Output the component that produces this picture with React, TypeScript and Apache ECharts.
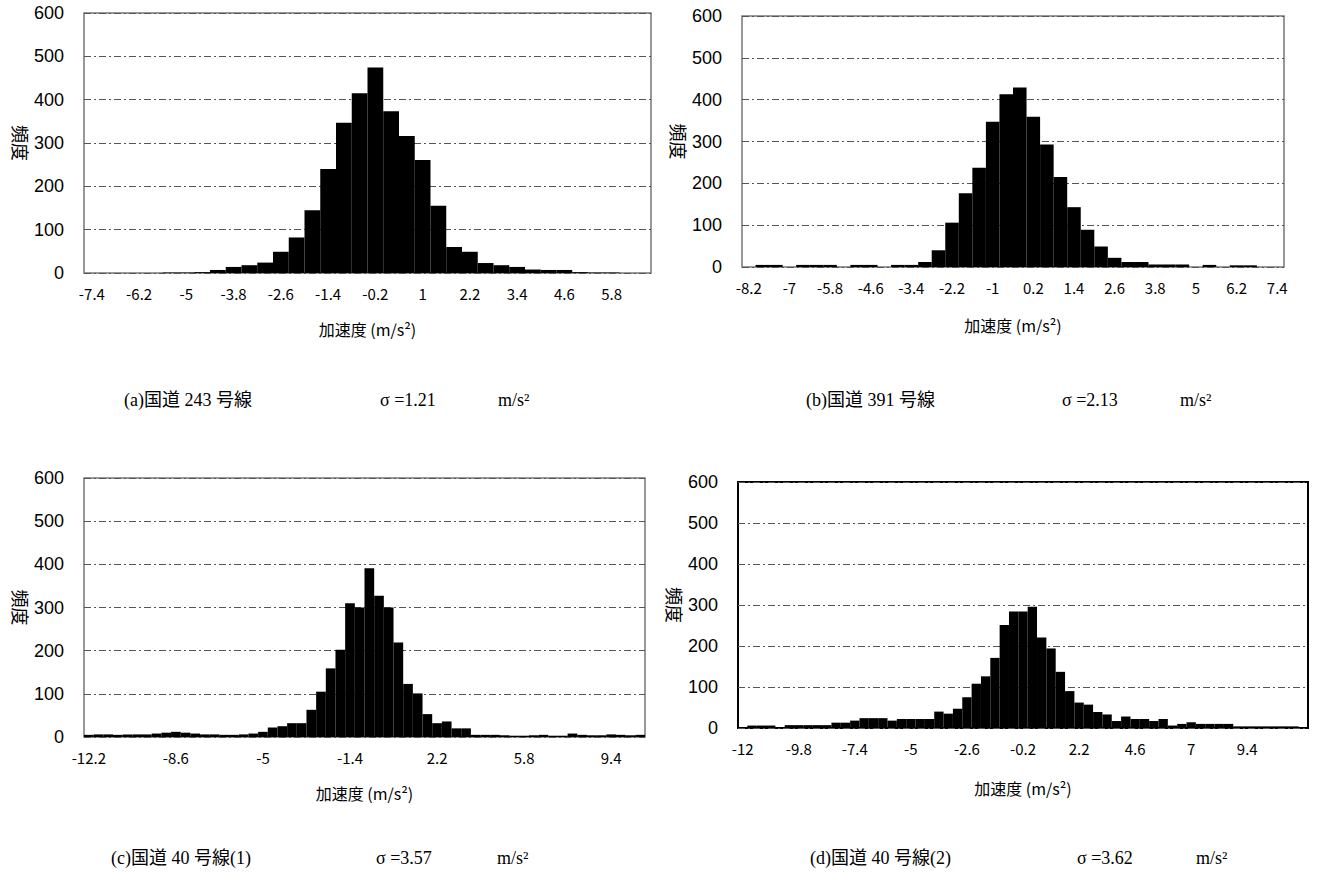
import React, { useEffect, useRef } from "react";
import * as echarts from "echarts";

const BIN = 0.4;

// (a) 国道243号線
const A_START = -7.4;
const A_VALUES = [0, 0, 0, 0, 0, 1, 1, 2, 7, 14, 18, 24, 49, 82, 145, 240, 347, 415, 474, 373, 316, 261, 155, 60, 49, 23, 18, 14, 8, 7, 7, 2, 1, 1, 0, 0];
const A_TICKS = ["-7.4", "-6.2", "-5", "-3.8", "-2.6", "-1.4", "-0.2", "1", "2.2", "3.4", "4.6", "5.8"];
const A_FIRST = 0, A_EVERY = 3;

// (b) 国道391号線
const B_START = -8.2;
const B_VALUES = [0, 5, 5, 0, 5, 5, 5, 0, 5, 5, 0, 5, 5, 12, 40, 106, 176, 237, 347, 413, 429, 359, 293, 215, 143, 89, 49, 22, 12, 12, 6, 6, 6, 0, 5, 0, 4, 4, 0, 0];
const B_TICKS = ["-8.2", "-7", "-5.8", "-4.6", "-3.4", "-2.2", "-1", "0.2", "1.4", "2.6", "3.8", "5", "6.2", "7.4"];
const B_FIRST = 0, B_EVERY = 3;

// (c) 国道40号線(1)
const C_START = -12.2;
const C_VALUES = [5, 6, 6, 5, 6, 6, 6, 8, 10, 12, 10, 8, 6, 6, 5, 5, 6, 8, 12, 22, 25, 32, 32, 63, 105, 159, 202, 310, 300, 391, 327, 300, 219, 123, 101, 53, 32, 36, 20, 20, 5, 5, 5, 4, 3, 3, 4, 5, 3, 3, 8, 5, 4, 4, 6, 5, 4, 5];
const C_TICKS = ["-12.2", "-8.6", "-5", "-1.4", "2.2", "5.8", "9.4"];
const C_FIRST = 0, C_EVERY = 9;

// (d) 国道40号線(2)
const D_START = -12.2;
const D_VALUES = [2, 6, 6, 6, 1, 7, 7, 7, 7, 7, 13, 13, 18, 24, 24, 24, 18, 22, 22, 22, 22, 40, 35, 47, 75, 108, 126, 171, 251, 284, 284, 296, 221, 194, 137, 90, 62, 57, 39, 33, 17, 28, 22, 22, 17, 22, 6, 10, 14, 10, 10, 10, 10, 4, 4, 4, 4, 4, 4, 4, 0];
const D_TICKS = ["-12", "-9.8", "-7.4", "-5", "-2.6", "-0.2", "2.2", "4.6", "7", "9.4"];
const D_FIRST = 0, D_EVERY = 6;

const Y_MAX = 600;
const Y_STEP = 100;

const CAPTIONS = [
  { name: "(a)国道 243 号線", sigma: "σ =1.21", unit: "m/s²" },
  { name: "(b)国道 391 号線", sigma: "σ =2.13", unit: "m/s²" },
  { name: "(c)国道 40 号線(1)", sigma: "σ =3.57", unit: "m/s²" },
  { name: "(d)国道 40 号線(2)", sigma: "σ =3.62", unit: "m/s²" },
];

function categories(start: number, n: number): string[] {
  const out: string[] = [];
  for (let i = 0; i < n; i++) out.push(String(Math.round((start + i * BIN) * 10) / 10));
  return out;
}

const PANELS = [
  { start: A_START, values: A_VALUES, ticks: A_TICKS, first: A_FIRST, every: A_EVERY,
    grid: { left: 84, top: 13, width: 567, height: 260 }, nameGap: 52, xNameGap: 48, border: "#777", bw: 1.5,
    cap: { x: [124, 380, 498], y: 402 } },
  { start: B_START, values: B_VALUES, ticks: B_TICKS, first: B_FIRST, every: B_EVERY,
    grid: { left: 742, top: 16, width: 542, height: 251 }, nameGap: 52, xNameGap: 50, border: "#777", bw: 1.5,
    cap: { x: [806, 1062, 1180], y: 402 } },
  { start: C_START, values: C_VALUES, ticks: C_TICKS, first: C_FIRST, every: C_EVERY,
    grid: { left: 84, top: 478, width: 561, height: 259 }, nameGap: 52, xNameGap: 48, border: "#777", bw: 1.5,
    cap: { x: [111, 376, 497], y: 860 } },
  { start: D_START, values: D_VALUES, ticks: D_TICKS, first: D_FIRST, every: D_EVERY,
    grid: { left: 738, top: 482, width: 570, height: 246 }, nameGap: 50, xNameGap: 52, border: "#000", bw: 2,
    cap: { x: [810, 1077, 1196], y: 860 } },
];

const SANS = "'Liberation Sans', Arial, sans-serif";
const CJK = "'Noto Sans CJK JP', sans-serif";
const SERIF = "'Liberation Serif', 'Noto Sans CJK JP', serif";

export default function App() {
  const ref = useRef<HTMLDivElement>(null);
  useEffect(() => {
    if (!ref.current) return;
    const chart = echarts.init(ref.current, undefined, { renderer: "svg" });
    const grids: any[] = [];
    const xAxes: any[] = [];
    const yAxes: any[] = [];
    const series: any[] = [];
    const graphics: any[] = [];
    PANELS.forEach((p, i) => {
      grids.push({ ...p.grid, show: true, borderColor: p.border, borderWidth: p.bw, backgroundColor: "#fff" });
      const cats = categories(p.start, p.values.length);
      xAxes.push({
        type: "category",
        gridIndex: i,
        data: cats,
        boundaryGap: true,
        axisTick: { show: false },
        axisLine: { show: false },
        axisLabel: {
          interval: (idx: number) => idx >= p.first && (idx - p.first) % p.every === 0,
          formatter: (_v: string, idx: number) => p.ticks[(idx - p.first) / p.every] ?? "",
          color: "#000",
          fontSize: 15,
          fontFamily: CJK,
          margin: 13,
        },
        name: "加速度 (m/s²)",
        nameLocation: "middle",
        nameGap: p.xNameGap,
        nameTextStyle: { color: "#000", fontSize: 16, fontFamily: CJK },
      });
      yAxes.push({
        type: "value",
        gridIndex: i,
        min: 0,
        max: Y_MAX,
        interval: Y_STEP,
        axisLine: { show: false },
        axisTick: { show: false },
        axisLabel: { color: "#000", fontSize: 18, fontFamily: SANS, margin: 20 },
        splitLine: { show: true, lineStyle: { color: "#555", width: 1, type: [7, 3, 2, 3] } },
        name: "頻度",
        nameLocation: "middle",
        nameRotate: -90,
        nameGap: p.nameGap,
        nameTextStyle: { color: "#000", fontSize: 18, fontFamily: CJK },
      });
      series.push({
        type: "bar",
        xAxisIndex: i,
        yAxisIndex: i,
        data: p.values,
        barCategoryGap: "0%",
        barGap: "0%",
        itemStyle: { color: "#000" },
        silent: true,
      });
      const c = CAPTIONS[i];
      [c.name, c.sigma, c.unit].forEach((t, k) => {
        graphics.push({
          type: "text",
          left: p.cap.x[k],
          top: p.cap.y - 11,
          style: { text: t, fill: "#000", font: `18px ${SERIF}` },
        });
      });
    });
    chart.setOption({
      animation: false,
      backgroundColor: "#fff",
      grid: grids,
      xAxis: xAxes,
      yAxis: yAxes,
      series,
      graphic: graphics,
    });
    return () => chart.dispose();
  }, []);
  return <div ref={ref} style={{ position: "fixed", left: 0, top: 0, width: 1324, height: 875, background: "#fff" }} />;
}
